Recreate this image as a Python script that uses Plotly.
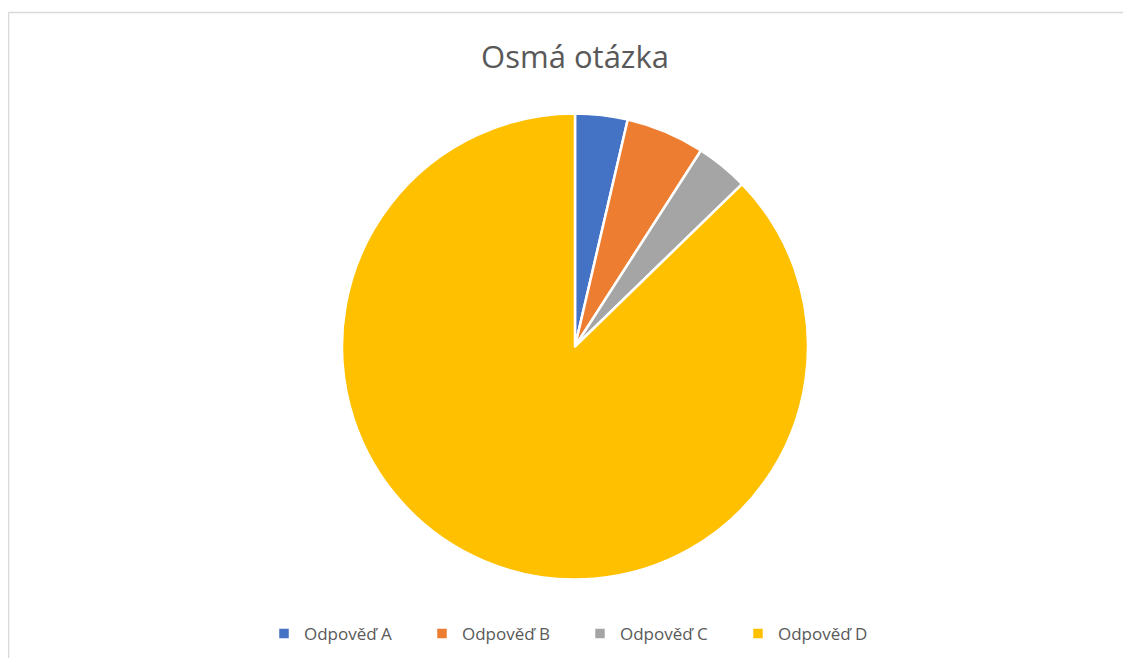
import plotly.graph_objects as go

# Data
labels = ['Odpověď A', 'Odpověď B', 'Odpověď C', 'Odpověď D']
values = [2, 3, 2, 48]
colors = ['#4472C4', '#ED7D31', '#A5A5A5', '#FFC000']

# the page body has an 8px margin, so the figure starts at (8, 8)
W, H = 1115, 650
OX, OY = 8, 8


def px_x(x):
    return (x - OX) / W


def px_y(y):
    return 1 - (y - OY) / H


fig = go.Figure()

fig.add_trace(
    go.Pie(
        labels=labels,
        values=values,
        sort=False,
        direction='clockwise',
        rotation=0,
        textinfo='none',
        hoverinfo='label+value+percent',
        marker=dict(colors=colors, line=dict(color='white', width=2.5)),
        domain=dict(x=[px_x(342), px_x(808)], y=[px_y(580), px_y(113)]),
    )
)

# Chart border (top and left edges visible in the crop)
fig.add_shape(type='line', xref='paper', yref='paper',
              x0=px_x(8.5), x1=1.0, y0=px_y(12.5), y1=px_y(12.5),
              line=dict(color='#D9D9D9', width=1.5))
fig.add_shape(type='line', xref='paper', yref='paper',
              x0=px_x(8.5), x1=px_x(8.5), y0=0, y1=px_y(12.5),
              line=dict(color='#D9D9D9', width=1.5))

fig.update_layout(
    width=W,
    height=H,
    margin=dict(l=0, r=0, t=0, b=0),
    paper_bgcolor='white',
    plot_bgcolor='white',
    font=dict(family='Open Sans', color='#595959'),
    title=dict(
        text='Osmá otázka',
        x=px_x(575), xanchor='center',
        y=px_y(57), yanchor='middle',
        font=dict(family='Open Sans', size=31, color='#595959'),
    ),
    showlegend=True,
    legend=dict(
        orientation='h',
        x=px_x(580), xanchor='center',
        y=px_y(634), yanchor='middle',
        font=dict(family='Open Sans', size=17, color='#595959'),
        entrywidth=113,
        entrywidthmode='pixels',
        itemwidth=30,
        traceorder='normal',
    ),
)

fig.write_html("out.html")
